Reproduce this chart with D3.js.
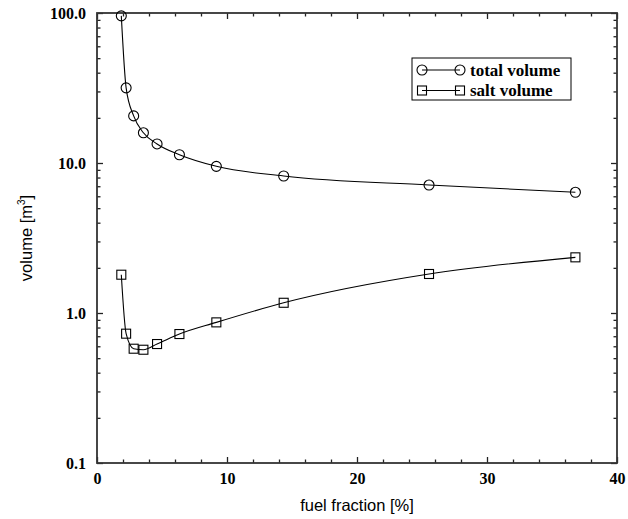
<!DOCTYPE html>
<html>
<head>
<meta charset="utf-8">
<script src="https://cdn.jsdelivr.net/npm/d3@7/dist/d3.min.js"></script>
<style>
  html, body { margin: 0; padding: 0; background: #fff; }
  svg { display: block; }
  .tick-label { font-family: "Liberation Serif", "Times New Roman", serif; font-weight: bold; font-size: 16px; fill: #000; }
  .axis-title { font-family: "Liberation Sans", Arial, sans-serif; font-size: 16.5px; fill: #000; }
  .legend-text { font-family: "Liberation Serif", "Times New Roman", serif; font-weight: bold; font-size: 17px; fill: #000; }
</style>
</head>
<body>
<svg id="chart" width="628" height="519"></svg>
<script>
// Fuel fraction [%] for each calculated case
const fuelFraction = [1.87, 2.24, 2.82, 3.57, 4.62, 6.34, 9.18, 14.36, 25.54, 36.8];
// Total volume [m^3]
const totalVolume = [95.7, 31.7, 20.6, 15.9, 13.4, 11.35, 9.5, 8.19, 7.13, 6.38];
// Salt volume [m^3]
const saltVolume = [1.8, 0.728, 0.578, 0.569, 0.621, 0.724, 0.866, 1.17, 1.82, 2.35];

const seriesNames = ["total volume", "salt volume"];

const xTicks = [0, 10, 20, 30, 40];
const xTickLabels = ["0", "10", "20", "30", "40"];
const xMinorTicks = [2, 4, 6, 8, 12, 14, 16, 18, 22, 24, 26, 28, 32, 34, 36, 38];
const yTicks = [0.1, 1, 10, 100];
const yTickLabels = ["0.1", "1.0", "10.0", "100.0"];

const svg = d3.select("#chart");
const plotLeft = 97, plotRight = 617, plotTop = 13, plotBottom = 463;

const x = d3.scaleLinear().domain([0, 40]).range([plotLeft, plotRight]);
const y = d3.scaleLog().domain([0.1, 100]).range([plotBottom, plotTop]);

// minor log ticks 2..9 in each decade
const yMinorTicks = [];
[0.1, 1, 10].forEach(d => { for (let k = 2; k <= 9; k++) yMinorTicks.push(d * k); });

const MAJOR = 6, MINOR = 3.5;

function styleAxis(g) {
  g.select(".domain").remove();
  g.selectAll(".tick line").attr("stroke", "#222").attr("stroke-width", 1.3);
}

// bottom axis: labelled majors, inward ticks
svg.append("g").attr("transform", `translate(0,${plotBottom})`)
  .call(d3.axisBottom(x).tickValues(xTicks).tickSizeInner(-MAJOR).tickSizeOuter(0)
    .tickFormat((d, i) => xTickLabels[i]))
  .call(styleAxis)
  .call(g => g.selectAll(".tick text").attr("class", "tick-label").attr("y", 10).attr("dy", "0.71em"));
svg.append("g").attr("transform", `translate(0,${plotBottom})`)
  .call(d3.axisBottom(x).tickValues(xMinorTicks).tickSizeInner(-MINOR).tickSizeOuter(0).tickFormat(""))
  .call(styleAxis);

// top axis: ticks only
svg.append("g").attr("transform", `translate(0,${plotTop})`)
  .call(d3.axisTop(x).tickValues(xTicks).tickSizeInner(-MAJOR).tickSizeOuter(0).tickFormat(""))
  .call(styleAxis);
svg.append("g").attr("transform", `translate(0,${plotTop})`)
  .call(d3.axisTop(x).tickValues(xMinorTicks).tickSizeInner(-MINOR).tickSizeOuter(0).tickFormat(""))
  .call(styleAxis);

// left axis: labelled decades
svg.append("g").attr("transform", `translate(${plotLeft},0)`)
  .call(d3.axisLeft(y).tickValues(yTicks).tickSizeInner(-MAJOR).tickSizeOuter(0)
    .tickFormat((d, i) => yTickLabels[i]))
  .call(styleAxis)
  .call(g => g.selectAll(".tick text").attr("class", "tick-label").attr("x", -11).attr("dy", "0.36em"));
svg.append("g").attr("transform", `translate(${plotLeft},0)`)
  .call(d3.axisLeft(y).tickValues(yMinorTicks).tickSizeInner(-MINOR).tickSizeOuter(0).tickFormat(""))
  .call(styleAxis);

// right axis: ticks only
svg.append("g").attr("transform", `translate(${plotRight},0)`)
  .call(d3.axisRight(y).tickValues(yTicks).tickSizeInner(-MAJOR).tickSizeOuter(0).tickFormat(""))
  .call(styleAxis);
svg.append("g").attr("transform", `translate(${plotRight},0)`)
  .call(d3.axisRight(y).tickValues(yMinorTicks).tickSizeInner(-MINOR).tickSizeOuter(0).tickFormat(""))
  .call(styleAxis);

// remove the font attributes d3 puts on axis groups so the CSS classes apply
svg.selectAll("g").attr("font-family", null).attr("font-size", null);

// plot frame
svg.append("rect")
  .attr("x", plotLeft).attr("y", plotTop)
  .attr("width", plotRight - plotLeft).attr("height", plotBottom - plotTop)
  .attr("fill", "none").attr("stroke", "#333").attr("stroke-width", 1.8);

// axis titles
svg.append("text").attr("class", "axis-title")
  .attr("x", (plotLeft + plotRight) / 2).attr("y", 511).attr("text-anchor", "middle")
  .text("fuel fraction [%]");

const yTitle = svg.append("text").attr("class", "axis-title")
  .attr("transform", `translate(32,${(plotTop + plotBottom) / 2}) rotate(-90)`)
  .attr("text-anchor", "middle");
yTitle.append("tspan").text("volume [m");
yTitle.append("tspan").attr("font-size", "10px").attr("dy", "-7").text("3");
yTitle.append("tspan").attr("dy", "7").text("]");

// data lines and markers
const line = d3.line().curve(d3.curveMonotoneX).x(d => x(d[0])).y(d => y(d[1]));
const totalPts = fuelFraction.map((f, i) => [f, totalVolume[i]]);
const saltPts = fuelFraction.map((f, i) => [f, saltVolume[i]]);

svg.append("path").datum(totalPts).attr("d", line)
  .attr("fill", "none").attr("stroke", "#000").attr("stroke-width", 1.1);
svg.append("path").datum(saltPts).attr("d", line)
  .attr("fill", "none").attr("stroke", "#000").attr("stroke-width", 1.1);

const R = 5, S = 9;
svg.append("g").selectAll("circle").data(totalPts).join("circle")
  .attr("cx", d => x(d[0])).attr("cy", d => y(d[1])).attr("r", R)
  .attr("fill", "none").attr("stroke", "#000").attr("stroke-width", 1.1);
svg.append("g").selectAll("rect").data(saltPts).join("rect")
  .attr("x", d => x(d[0]) - S / 2).attr("y", d => y(d[1]) - S / 2)
  .attr("width", S).attr("height", S)
  .attr("fill", "none").attr("stroke", "#000").attr("stroke-width", 1.1);

// legend
const lg = svg.append("g").attr("transform", "translate(412,58)");
lg.append("rect").attr("width", 159).attr("height", 42)
  .attr("fill", "#fff").attr("stroke", "#000").attr("stroke-width", 1);
const rows = [12, 32.5];
rows.forEach((ry, i) => {
  lg.append("line").attr("x1", 10).attr("x2", 48).attr("y1", ry).attr("y2", ry)
    .attr("stroke", "#000").attr("stroke-width", 1.1);
  [10, 48].forEach(cx => {
    if (i === 0) {
      lg.append("circle").attr("cx", cx).attr("cy", ry).attr("r", R)
        .attr("fill", "none").attr("stroke", "#000").attr("stroke-width", 1.1);
    } else {
      lg.append("rect").attr("x", cx - S / 2).attr("y", ry - S / 2).attr("width", S).attr("height", S)
        .attr("fill", "none").attr("stroke", "#000").attr("stroke-width", 1.1);
    }
  });
  lg.append("text").attr("class", "legend-text").attr("x", 58).attr("y", ry).attr("dy", "0.33em")
    .text(seriesNames[i]);
});
</script>
</body>
</html>
